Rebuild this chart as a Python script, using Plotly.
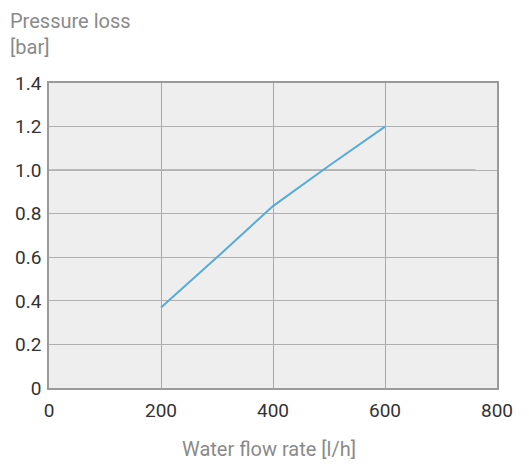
import plotly.graph_objects as go

flow = [200, 300, 400, 500, 600]
pressure = [0.37, 0.60, 0.835, 1.02, 1.2]

x_ticks = [0, 200, 400, 600, 800]
y_ticks = [0, 0.2, 0.4, 0.6, 0.8, 1.0, 1.2, 1.4]
y_ticktext = ["0", "0.2", "0.4", "0.6", "0.8", "1.0", "1.2", "1.4"]

ref_y = 1.0
ref_x_end = 762

FONT = "Roboto, Arial, sans-serif"

fig = go.Figure()
fig.add_trace(go.Scatter(x=flow, y=pressure, mode="lines",
                         line=dict(color="#5aaad3", width=2), showlegend=False,
                         hoverinfo="skip"))

fig.add_shape(type="line", x0=0, x1=ref_x_end, y0=ref_y, y1=ref_y,
              xref="x", yref="y", line=dict(color="#8c8c8c", width=1.5), layer="below")

fig.update_layout(
    width=529, height=466,
    margin=dict(l=41, r=40, t=75, b=86),
    paper_bgcolor="white", plot_bgcolor="#eeeeee",
    font=dict(family=FONT, size=19, color="#333333"),
    xaxis=dict(range=[0, 800], tickvals=x_ticks, showgrid=True, gridcolor="#a8a8a8",
               gridwidth=1.2, zeroline=False, showline=True, linecolor="#9a9a9a",
               linewidth=1.5, mirror=True, ticks="", ticklabelstandoff=4,
               automargin=False,
               tickfont=dict(family=FONT, size=19, color="#333333")),
    yaxis=dict(range=[0, 1.4], tickvals=y_ticks, ticktext=y_ticktext, showgrid=True,
               gridcolor="#b0b0b0", gridwidth=1.2, zeroline=False, showline=True,
               linecolor="#9a9a9a", linewidth=1.5, mirror=True, ticks="",
               ticklabelstandoff=2, automargin=False,
               tickfont=dict(family=FONT, size=19, color="#333333")),
    annotations=[
        dict(text="Pressure loss<br>[bar]", xref="paper", yref="paper",
             x=-41/448, y=1 + 76/305, xanchor="left", yanchor="top", showarrow=False,
             align="left", font=dict(family=FONT, size=20, color="#8a8a8a")),
        dict(text="Water flow rate [l/h]", xref="paper", yref="paper",
             x=0.49, y=-61/305, xanchor="center", yanchor="middle", showarrow=False,
             font=dict(family=FONT, size=20, color="#8a8a8a")),
    ],
)

fig.write_html("out.html")
